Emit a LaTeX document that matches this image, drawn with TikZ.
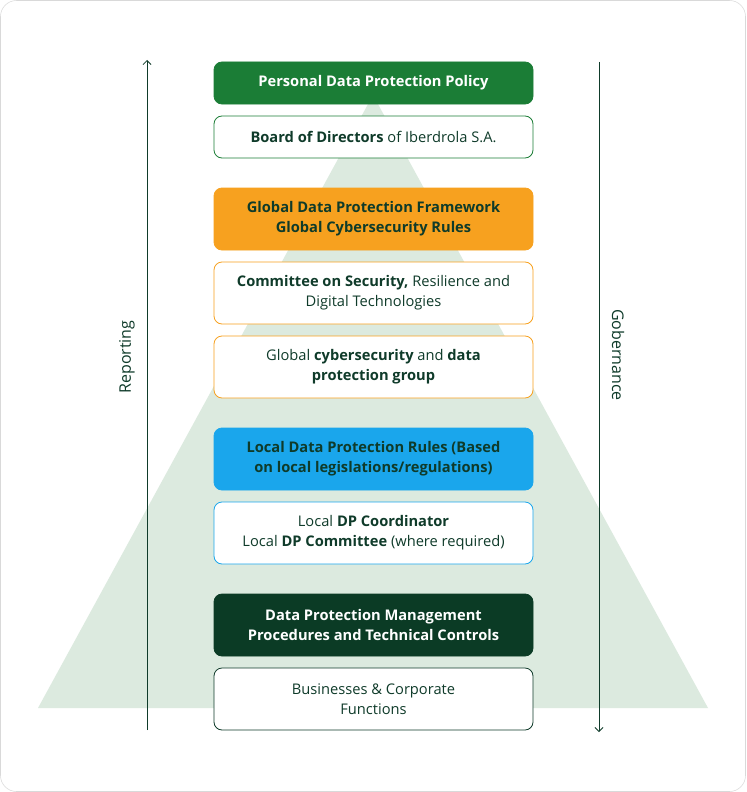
\documentclass[tikz,border=0pt]{standalone}
\usepackage{fontspec}
\setmainfont{Open Sans}
\usetikzlibrary{arrows.meta}
\definecolor{dkgreen}{HTML}{0F3B2A}
\definecolor{polgreen}{HTML}{1B7D36}
\definecolor{trigreen}{HTML}{DCEADF}
\definecolor{orng}{HTML}{F7A11F}
\definecolor{blu}{HTML}{1AA6EC}
\definecolor{mgmt}{HTML}{0B3B25}
\tikzset{
  box/.style={draw, rounded corners=6pt, minimum width=319*0.75pt, align=center,
    font=\fontsize{11}{15}\selectfont, text=dkgreen, fill=white, line width=0.6pt},
  short box/.style={box, minimum height=42*0.75pt},
  tall box/.style={box, minimum height=62*0.75pt},
  flow/.style={draw=dkgreen, line width=0.6pt},
  side label/.style={font=\fontsize{12}{14}\selectfont, text=dkgreen}
}
\begin{document}
\begin{tikzpicture}[x=0.75pt, y=-0.75pt]
  \draw[gray!30, fill=white, rounded corners=12pt] (0.5,0.5) rectangle (745.5,791.5);
  \useasboundingbox (0,0) rectangle (746,792);
  \fill[trigreen] (373,95) -- (708,708) -- (38,708) -- cycle;
  % boxes
  \node[short box, fill=polgreen, draw=polgreen, text=white] (policy) at (373.5,83) {\textbf{Personal Data Protection Policy}};
  \node[short box, draw=polgreen] (board) at (373.5,137) {\textbf{Board of Directors} of Iberdrola S.A.};
  \node[tall box, fill=orng, draw=orng] (framework) at (373.5,219) {\textbf{Global Data Protection Framework}\\\textbf{Global Cybersecurity Rules}};
  \node[tall box, draw=orng] (committee) at (373.5,293) {\textbf{Committee on Security,} Resilience and\\Digital Technologies};
  \node[tall box, draw=orng] (group) at (373.5,367) {Global \textbf{cybersecurity} and \textbf{data}\\\textbf{protection group}};
  \node[tall box, fill=blu, draw=blu] (localrules) at (373.5,459) {\textbf{Local Data Protection Rules (Based}\\\textbf{on local legislations/regulations)}};
  \node[tall box, draw=blu] (coordinator) at (373.5,533) {Local \textbf{DP Coordinator}\\Local \textbf{DP Committee} (where required)};
  \node[tall box, fill=mgmt, draw=mgmt, text=white] (procedures) at (373.5,625) {\textbf{Data Protection Management}\\\textbf{Procedures and Technical Controls}};
  \node[tall box, draw=dkgreen] (businesses) at (373.5,699) {Businesses \& Corporate\\Functions};
  % side arrows
  \coordinate (repbot) at (147,730);
  \coordinate (reptop) at (147,60);
  \coordinate (govtop) at (599,62);
  \coordinate (govbot) at (599,732);
  \draw[flow, -{Straight Barb[length=3pt]}] (repbot) -- (reptop);
  \draw[flow, -{Straight Barb[length=3pt]}] (govtop) -- (govbot);
  \node[side label, rotate=90] (reporting) at (127,357) {Reporting};
  \node[side label, rotate=-90] (gobernance) at (618,355) {Gobernance};
\end{tikzpicture}
\end{document}
